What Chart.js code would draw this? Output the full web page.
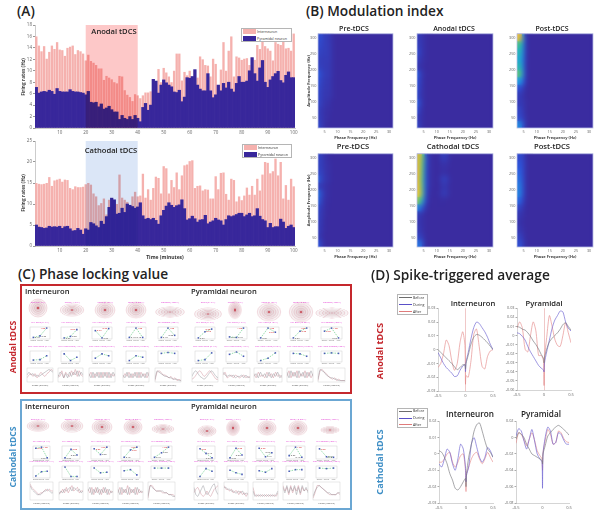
<!DOCTYPE html>
<html>
<head>
<meta charset="utf-8">
<title>tDCS figure</title>
<script src="https://cdn.jsdelivr.net/npm/chart.js@4/dist/chart.umd.min.js"></script>
<style>
  html, body { margin: 0; padding: 0; background: #fff; }
  #page { position: absolute; left: 0; top: 0; width: 603px; height: 517px; overflow: hidden; background: #fff; filter: blur(0.35px); font-family: "Open Sans", "Noto Sans", sans-serif; }
  #page canvas { position: absolute; }
  .txt { position: absolute; white-space: nowrap; line-height: 1; }
  .frame { position: absolute; box-sizing: border-box; }
  .legend { position: absolute; box-sizing: border-box; background: #fff; border: 1px solid #b5b5b5; }
</style>
</head>
<body>
<div id="page"></div>
<script>
// Panel A: firing rates per minute
const minutes = [];
for (let m = 1; m <= 100; m++) minutes.push(m);
const anodalInter = [16,14.4,13.4,14.3,12.1,13.3,14.4,13.8,15,13.7,13.6,12.6,14,14.2,14.4,12.9,13.6,13.4,13,11.8,
  12.8,11.7,11.4,11,10.4,10.4,8.4,9.1,8.8,8.5,8,7.8,9.1,9,6.6,5.8,5.4,4.7,5.9,5.7,
  5.2,5.7,6.2,6.2,6.4,8.5,8,10.3,8,10.5,9.7,9,8,10,13,13,8.3,9.8,9.2,10,
  8.7,10,8.8,12.5,12,11,10.9,9,12.1,11.2,7,10.2,15,10,13.5,16,9,12.5,12.3,11.9,
  12.1,12.2,11,12.3,11.9,14.5,13.8,15.7,14.3,13.9,13.5,11.8,15,14.7,14.5,15.2,13.9,14,13.5,16.5];
const anodalPyr = [7.1,6.1,6.3,6.4,6.3,6.6,6.4,5.9,6.9,6.4,6.3,6.3,6.3,6.7,6.4,6.3,6.3,6.2,6.1,5.8,
  6.4,4.5,4.4,4.5,3.7,4.2,3.3,3.5,3.8,3.2,2.8,2.8,1.5,2.2,1.7,1.5,2,1.5,2.2,1.7,
  1.1,3.6,4.3,3.1,4,8.5,8.2,6.1,7.5,8.4,7.9,7.5,7.2,6.3,6.2,6.6,4.6,5.4,8.8,8.7,
  9,10.2,7.5,6.8,6.5,6.5,9.5,6.5,5.3,5.8,7.5,6.5,7.8,7,8,6.8,6.3,7.8,9,8,
  8,8.2,10,12.3,9.5,8.2,10.5,11.8,8,7.1,8.4,9,9.5,9.9,8.3,7.9,9.2,9.8,8.8,8.8];
const cathodalInter = [15,14.8,14.7,14.8,15,16.4,14.3,15.6,15.8,16,15.3,15.8,15.7,13.8,13.5,14.2,14,14,14.1,14.7,
  15,14.6,12.5,11.8,9.7,10.2,11.3,7.5,11,11,10,10,17,11.5,11,10.5,9.5,11.8,12.9,11.8,
  12,17.2,11.5,13.5,11,13.8,16.5,16.2,12.5,19,18.5,12.5,15.7,14,17.5,13.5,16.8,19.2,19.4,20.2,
  20.4,13.8,14.3,14.4,13.2,13.5,13.4,11.3,11.3,16.6,13.5,17.4,17.5,12.4,11,16,15.7,10.6,11.8,10.9,
  12,13.9,12.2,14.3,12.2,16,13.2,17,20,19.8,17.3,17.8,20.8,16.8,20,11.3,14.5,11,16,14.2];
const cathodalPyr = [5,4.5,4.4,4.2,4.3,4.7,4.5,4.6,4.5,4.7,4.2,4.6,4.7,4.1,3.6,3.7,4.2,3.8,2.8,4.1,
  3.8,5.6,5.3,4.8,4.4,5.9,5.2,7,9.2,11.4,11,7.6,7.8,9,8,10,9.7,9.4,9,9.3,
  10.3,7.2,6.4,6.6,6.3,6.6,6.1,5.2,7.2,8.5,9.5,10.3,9.7,9.2,9.6,9.8,11,8.9,6.2,6.5,
  7.1,6.5,5.7,6.2,6.3,7.3,5.3,5.7,6,6.6,6.2,6,5,6.3,7.2,7,7.2,7.5,7.8,7.8,
  7,7.4,7.8,7,7.2,8.9,7.1,6.3,6,4.4,5.4,4.4,4.6,4.6,6.4,5.7,4.2,4.7,5,4.4];

// Panel B: comodulogram cells, top band first, percent of colour range, first column is 3 Hz
const phaseHz = [];
for (let p = 3; p <= 31; p++) phaseHz.push(p);
const ampEdges = [312,290,268,245,223,200,178,155,133,110,88,65,43,20];
const miPreA = [[15,14,8,8,7,2],[14,12,8,8,8,2],[12,10,7,9,8,2],[10,8,6,8,8,2],[12,8,6,7,7,2],[22,12,6,8,8,2],[18,10,5,7,6,2],[16,8,5,6,6,2],[14,8,4,6,5,2],[13,8,3,4,3,0],[10,6,2,2,2,0],[10,6,2,2,1,0],[14,6,2,1,0,0]];
const miAnodal = [[8,6,3,1,0,0],[10,6,3,1,0,0],[14,7,3,1,0,0],[10,5,2,1,0,0],[6,3,1,0,0,0],[22,8,2,1,0,0],[18,7,2,0,0,0],[16,6,2,0,0,0],[14,5,2,0,0,0],[22,8,2,0,0,0],[16,5,1,0,0,0],[8,4,1,0,0,0],[12,4,1,0,0,0]];
const miPostA = [[90,86,34,4,0,0],[62,58,32,4,0,0],[52,50,30,4,0,0],[46,44,28,3,0,0],[54,50,28,2,0,0],[68,62,30,3,0,0],[40,36,22,2,0,0],[16,14,7,0,0,0],[8,7,3,0,0,0],[7,7,4,2,0,0],[12,11,5,1,0,0],[14,13,7,2,0,0],[34,32,14,2,0,0]];
const miPreC = [[12,8,4,2,1,0],[12,8,4,3,2,0],[14,9,5,3,2,0],[24,10,5,4,3,0],[10,6,3,2,1,0],[28,12,4,2,1,0],[24,9,3,1,1,0],[14,6,2,1,0,0],[12,5,2,0,0,0],[10,5,1,0,0,0],[10,4,1,0,0,0],[8,3,0,0,0,0],[20,6,1,0,0,0]];
const miCathodal = [[84,84,62,18,4,2,0,0,0,8,8,6],[86,82,56,16,4,2,0,0,0,3,3,2],[88,80,52,14,4,2,0,0,0,2,2,1],[88,78,48,14,4,2,0,0,0,8,9,7],[90,80,48,14,4,2,0,0,0,4,6,4],[94,84,50,12,2,1,0,0,0,6,7,5],[74,62,34,8,2,0,0,0,0,1,1,0],[32,26,12,3,0,0],[7,5,2,0,0,0],[5,4,2,0,0,0],[7,5,2,0,0,0],[11,9,4,0,0,0],[28,26,9,0,0,0]];
const miPostC = [[14,14,11,2,0,0],[18,18,12,2,0,0],[23,21,12,2,0,0],[27,24,13,2,0,0],[31,28,13,2,0,0],[33,29,13,2,0,0],[25,21,9,1,0,0],[12,10,4,0,0,0],[6,5,2,0,0,0],[4,3,1,0,0,0],[6,5,2,0,0,0],[10,10,4,0,0,0],[15,15,7,1,0,0]];

// Panel C: ring levels, three-point rows and traces
const bandNames = ['Delta (0-4Hz)','Theta (4-7Hz)','Alpha (8-13Hz)','Beta (13-30Hz)','Gamma (>30Hz)'];
const conditions = ['Before','During','After'];
const ringLevels = [0.9,0.72,0.54,0.36,0.18];
const plvAnodal = [[0.1,0.25,1],[0.05,0.2,0.85],[0.75,0.05,0.95],[0.1,1,0.1],[0.1,1,0.3],[0.05,0.65,0.9],[0.15,0.1,1],[0.05,1,0.6],[0.05,0.7,1],[0.7,1,0.05]];
const angleAnodal = [[0.15,0.2,0.6],[0.8,0.1,0.45],[0.35,0.8,0.6],[0.1,0.6,0.45],[0.85,0.95,0.85],[0.1,0.2,0.9],[0.75,1,0.55],[0.1,0.35,0.9],[0.85,0.8,0.55],[0.85,0.9,0.85]];
const plvCathodal = [[0.9,1,0.05],[0.05,0.8,0.3],[0.85,0.35,1],[0.1,0.75,1],[0.1,0.5,1],[0.85,0.45,0.05],[0.05,0.9,0.3],[0.9,0.15,0.5],[0.25,1,0.1],[0.85,0.15,0.1]];
const angleCathodal = [[0.15,0.55,0.6],[1,0.1,0.1],[0.9,0.45,0.5],[0.65,0.75,0.25],[0.9,0.9,0.9],[0.1,0.85,0.6],[0.7,0.45,0.3],[0.65,0.5,0.85],[0.6,0.75,0.75],[0.9,0.85,0.9]];
const traceAnodalA = [[5,7,5,6,4,5,4,5,6,7,8,9,8,7],[3,7,6,3,6,3,7,4,7,5,8,4,7,5],[6,3,7,3,7,3,7,3,7,3,7,3,7,4],[5,3,7,3,6,3,7,3,7,3,6,3,7,4],[2,8,7,6,5,4,4,3,3,2,2,2,1,1],
  [4,7,8,6,4,3,2,3,5,7,8,6,4,3],[7,5,4,5,4,5,3,4,4,5,3,5,3,4],[4,6,3,7,4,6,3,7,3,6,4,7,3,5],[7,3,8,4,7,3,8,4,7,3,7,4,8,4],[2,9,8,7,5,4,3,3,2,2,1,1,1,1]];
const traceAnodalB = [[3,5,6,4,6,3,5,7,5,4,6,7,9,8],[5,4,8,3,7,5,4,8,5,9,4,8,5,4],[4,7,3,6,4,7,3,7,4,7,3,6,4,6],[3,6,4,7,3,6,4,7,3,7,4,6,3,7],[1,7,8,7,5,5,4,3,4,2,3,1,2,1],
  [2,3,5,7,8,6,4,5,7,8,6,4,2,2],[5,7,3,4,5,3,5,4,3,4,5,3,4,3],[6,3,7,4,5,3,7,4,6,3,7,4,5,3],[4,8,3,7,4,8,3,6,4,8,3,7,3,6],[1,8,9,7,6,4,3,2,3,1,2,1,1,1]];
const traceCathodalA = [[8,6,5,4,3,3,3,4,5,5,6,5,4,4],[3,5,4,6,5,6,7,5,7,6,5,6,4,5],[5,7,3,6,4,7,3,6,4,7,3,6,4,5],[6,3,7,4,6,3,7,4,6,3,7,4,5,4],[2,8,7,6,5,5,5,5,4,4,3,3,2,2],
  [7,3,2,4,6,8,5,3,4,6,8,9,5,3],[7,7,6,6,5,5,4,4,5,4,5,3,4,3],[5,2,3,2,3,2,3,2,3,2,3,2,3,5],[7,4,8,4,7,5,8,3,7,4,8,5,7,4],[2,5,7,8,7,6,5,4,4,3,3,3,4,4]];
const traceCathodalB = [[9,7,6,5,4,3,4,4,5,6,5,6,5,5],[4,4,6,4,7,4,6,8,5,6,7,4,5,5],[6,4,7,3,7,4,6,3,7,4,6,3,5,4],[4,7,3,6,4,8,3,6,4,7,3,6,4,5],[1,8,8,6,5,5,5,4,4,4,3,3,3,2],
  [4,6,7,5,3,2,3,5,3,2,4,6,7,8],[8,6,6,5,6,4,5,5,3,5,3,4,2,4],[7,3,2,3,2,3,2,3,2,3,2,3,2,4],[8,5,7,3,8,4,7,5,8,3,7,5,6,5],[1,4,8,8,7,6,5,4,3,3,3,3,4,3]];

// Panel D: spike-triggered averages, values in units of 0.001
const staTime = [-0.5,-0.45,-0.4,-0.35,-0.3,-0.25,-0.2,-0.15,-0.1,-0.05,-0.01,0,0.01,0.05,0.1,0.15,0.2,0.25,0.3,0.35,0.4,0.45,0.5];
const staAnoIntBefore = [0,-2,-4,-6,-8,-10,-12.5,-14.5,-13,-11,-11,-14,-10,-4,4,9,11,10.5,9,7,5,2.5,0];
const staAnoIntDuring = [-2,-6,-10,-13,-15,-17,-19.5,-19,-15,-12,-11,-16,-9,-2,8,16,20,19,16,13,9,4,0];
const staAnoIntAfter = [-13,-10,-3,7,3,-8,-15,-10,5,13,3,-25,-19,-20,-8,11,15,2,-12,-14,-5,-1,0];
const staAnoPyrBefore = [10,9,7,6,3,-1,-6,-10,-15,-21,-25,-30,-24,-15,-7,-3,0,3,7,12,14,10,6];
const staAnoPyrDuring = [3,2,-1,-5,-12,-18,-23,-28,-33,-36,-38,-40,-30,-18,-5,8,17,22,27,26,15,8,5];
const staAnoPyrAfter = [8,15,8,-15,-18,0,15,5,-22,-22,-28,-55,-25,-2,22,10,-4,-11,-12,0,14,3,-8];
const staCatIntBefore = [2,1,-2,-6,-12,-16,-21,-22,-20,-17,-15,-20,-12,-2,6,14,18,19,14,8,3,1,-2];
const staCatIntDuring = [-6,-8,-3,3,1,-6,-10,-3,6,3,-8,-17,-13,-8,6,10,4,-2,-5,-2,4,2,-2];
const staCatIntAfter = [-5,-5,-3,0,1,-5,-8,-5,-1,0,-10,-23,-12,-8,-3,0,1,-3,-6,-3,1,-2,-5];
const staCatPyrBefore = [-2,6,4,0,-8,-14,-20,-22,-24,-26,-28,-32,-20,-10,2,6,10,13,15,13,10,7,3];
const staCatPyrDuring = [2,11,8,-4,-14,-2,10,-4,-20,-26,-30,-62,-20,0,13,8,-8,-6,6,4,-3,-8,-8];
const staCatPyrAfter = [-7,6,4,-3,-10,-2,6,-3,-16,-22,-26,-40,-18,-4,10,4,-8,-6,8,6,-1,-5,-6];

const PINK = '#f5b1ae', NAVY = '#38279b', HEAT_BASE = '#3a2ca0';
const RED = '#c4262c', BLUE = '#3f8fc6', TICK = '#666';
const page = document.getElementById('page');
Chart.defaults.animation = false;
Chart.defaults.font.family = '"Open Sans", "Noto Sans", sans-serif';

function label(text, x, y, size, opts) {
  opts = opts || {};
  const d = document.createElement('div');
  d.className = 'txt';
  d.textContent = text;
  d.style.left = x + 'px';
  d.style.top = y + 'px';
  d.style.fontSize = size + 'px';
  d.style.fontWeight = opts.weight || 400;
  d.style.color = opts.color || '#222';
  let tr = opts.left ? 'translate(0,-50%)' : 'translate(-50%,-50%)';
  if (opts.rotate) tr += ' rotate(-90deg)';
  d.style.transform = tr;
  page.appendChild(d);
}

function frameBox(l, t, r, b, color, w) {
  const d = document.createElement('div');
  d.className = 'frame';
  d.style.cssText = 'left:' + l + 'px;top:' + t + 'px;width:' + (r - l) + 'px;height:' + (b - t) + 'px;border:' + w + 'px solid ' + color;
  page.appendChild(d);
}

function legendBox(l, t, w, h, items, swatch) {
  const d = document.createElement('div');
  d.className = 'legend';
  d.style.cssText = 'left:' + l + 'px;top:' + t + 'px;width:' + w + 'px;height:' + h + 'px';
  page.appendChild(d);
  items.forEach(function(it, i) {
    const rowY = t + (i + 0.5) * h / items.length;
    const s = document.createElement('div');
    s.style.cssText = 'position:absolute;left:' + (l + 1.5) + 'px;top:' + (rowY - swatch / 2) + 'px;width:13px;height:' + swatch + 'px;background:' + it.color;
    page.appendChild(s);
    label(it.name, l + 16, rowY, 3.6, { left: true, color: '#333' });
  });
}

// canvas placed so that the chart area lands on the given plot box
function place(l, t, r, b, m) {
  const c = document.createElement('canvas');
  c.width = r - l + m.left + m.right;
  c.height = b - t + m.top + m.bottom;
  c.style.left = (l - m.left) + 'px';
  c.style.top = (t - m.top) + 'px';
  page.appendChild(c);
  return c;
}

function fitted(m, axis, scale) {
  scale.afterFit = function(s) {
    if (axis === 'y') s.width = m.left; else s.height = m.bottom;
  };
  return scale;
}

const framePlugin = {
  id: 'plotFrame',
  afterDraw(chart, args, opts) {
    if (!opts.color) return;
    const a = chart.chartArea, ctx = chart.ctx;
    ctx.save();
    ctx.strokeStyle = opts.color;
    ctx.lineWidth = opts.width || 0.5;
    ctx.strokeRect(a.left, a.top, a.right - a.left, a.bottom - a.top);
    ctx.restore();
  }
};

const shadePlugin = {
  id: 'stimShade',
  afterDatasetsDraw(chart, args, opts) {
    if (!opts.color) return;
    const a = chart.chartArea, ctx = chart.ctx, x = chart.scales.x;
    ctx.save();
    ctx.globalCompositeOperation = 'multiply';
    ctx.fillStyle = opts.color;
    const x0 = x.getPixelForValue(opts.from), x1 = x.getPixelForValue(opts.to);
    ctx.fillRect(x0, a.top, x1 - x0, a.bottom - a.top);
    ctx.restore();
  }
};

// base colour under the cells, then the finished cells are blurred as one picture
const softPlugin = {
  id: 'softCells',
  beforeDatasetsDraw(chart, args, opts) {
    if (!opts.blur) return;
    const a = chart.chartArea;
    chart.ctx.fillStyle = opts.base;
    chart.ctx.fillRect(a.left, a.top, a.right - a.left, a.bottom - a.top);
  },
  afterDatasetsDraw(chart, args, opts) {
    if (!opts.blur) return;
    const a = chart.chartArea, ctx = chart.ctx;
    const w = a.right - a.left, h = a.bottom - a.top;
    const tmp = document.createElement('canvas');
    tmp.width = w;
    tmp.height = h;
    tmp.getContext('2d').drawImage(chart.canvas, a.left, a.top, w, h, 0, 0, w, h);
    ctx.save();
    ctx.beginPath();
    ctx.rect(a.left, a.top, w, h);
    ctx.clip();
    ctx.filter = 'blur(' + opts.blur + 'px)';
    ctx.drawImage(tmp, a.left, a.top);
    ctx.restore();
  }
};

const valueTextPlugin = {
  id: 'valueText',
  afterDatasetsDraw(chart, args, opts) {
    if (!opts.show) return;
    const ctx = chart.ctx, meta = chart.getDatasetMeta(0);
    ctx.save();
    ctx.font = '2.4px "Open Sans"';
    ctx.textBaseline = 'middle';
    meta.data.forEach(function(pt, i) {
      const v = chart.data.datasets[0].data[i];
      ctx.fillStyle = v > 0.5 ? '#d02020' : '#404040';
      ctx.textAlign = i === 2 ? 'right' : 'left';
      ctx.fillText(v.toFixed(2), pt.x + (i === 2 ? -1.5 : 1.5), pt.y);
    });
    ctx.restore();
  }
};

Chart.register(framePlugin, shadePlugin, softPlugin, valueTextPlugin);

function firingChart(box, inter, pyr, yMax, yStep, shadeColor, xTitle) {
  const m = { left: 12, right: 5, top: 4, bottom: xTitle ? 16 : 9 };
  new Chart(place(box[0], box[1], box[2], box[3], m), {
    type: 'bar',
    data: {
      labels: minutes,
      datasets: [
        { label: 'Pyramidal neuron', data: pyr, backgroundColor: NAVY, grouped: false, barPercentage: 1, categoryPercentage: 1, order: 1 },
        { label: 'Interneuron', data: inter, backgroundColor: PINK, grouped: false, barPercentage: 0.9, categoryPercentage: 1, order: 2 }
      ]
    },
    options: {
      responsive: false,
      layout: { padding: { top: m.top, right: m.right } },
      plugins: {
        legend: { display: false }, tooltip: { enabled: false },
        stimShade: { color: shadeColor, from: 19, to: 39 }
      },
      scales: {
        x: fitted(m, 'x', {
          grid: { display: false, drawTicks: false }, border: { color: '#999', width: 0.5 },
          ticks: { autoSkip: false, maxRotation: 0, font: { size: 4.5 }, color: TICK, padding: 2,
            callback: function(v, i) { return (i + 1) % 10 === 0 ? minutes[i] : ''; } },
          title: { display: !!xTitle, text: xTitle, font: { size: 5, weight: 'bold' }, color: '#333', padding: 1 }
        }),
        y: fitted(m, 'y', {
          min: 0, max: yMax, grid: { drawOnChartArea: false, tickLength: 2, color: '#999' }, border: { color: '#999', width: 0.5 },
          ticks: { stepSize: yStep, font: { size: 4.5 }, color: TICK, padding: 1 }
        })
      }
    }
  });
}

// parula-like ramp for the comodulograms
const rampStops = [[0,58,44,160],[0.2,45,90,225],[0.4,30,165,225],[0.58,45,195,160],[0.72,130,205,90],[0.88,240,185,55],[1,252,225,40]];
function rampColor(pct) {
  const v = pct / 100;
  for (let i = 1; i < rampStops.length; i++) {
    if (v <= rampStops[i][0]) {
      const a = rampStops[i - 1], b = rampStops[i], f = (v - a[0]) / (b[0] - a[0]);
      return 'rgb(' + [1, 2, 3].map(function(k) { return Math.round(a[k] + (b[k] - a[k]) * f); }).join(',') + ')';
    }
  }
  return 'rgb(252,225,40)';
}

function heatChart(box, cells, axisTitle) {
  const m = { left: 12, right: 3, top: 3, bottom: 12 };
  new Chart(place(box[0], box[1], box[2], box[3], m), {
    type: 'bar',
    data: {
      labels: phaseHz,
      datasets: cells.map(function(row, i) {
        return {
          data: row.map(function() { return [ampEdges[i + 1], ampEdges[i]]; }),
          backgroundColor: row.map(rampColor),
          grouped: false, barPercentage: 1, categoryPercentage: 1
        };
      })
    },
    options: {
      responsive: false,
      layout: { padding: { top: m.top, right: m.right } },
      plugins: {
        legend: { display: false }, tooltip: { enabled: false },
        softCells: { blur: 2.4, base: HEAT_BASE },
        plotFrame: { color: '#b9bfe6', width: 0.8 }
      },
      scales: {
        x: fitted(m, 'x', {
          grid: { display: false, drawTicks: false }, border: { display: false },
          ticks: { autoSkip: false, maxRotation: 0, font: { size: 3.8 }, color: TICK, padding: 1.5,
            callback: function(v) { return phaseHz[v] % 5 === 0 ? phaseHz[v] : ''; } },
          title: { display: true, text: 'Phase Frequency (Hz)', font: { size: 4, weight: 'bold' }, color: '#444', padding: 0 }
        }),
        y: fitted(m, 'y', {
          min: 20, max: 312, grid: { display: false, drawTicks: false }, border: { display: false },
          afterBuildTicks: function(s) { s.ticks = [50, 100, 150, 200, 250, 300].map(function(v) { return { value: v }; }); },
          ticks: { font: { size: 3.8 }, color: TICK, padding: 1.5 },
          title: { display: axisTitle, text: 'Amplitude Frequency (Hz)', font: { size: 4, weight: 'bold' }, color: '#444', padding: 0 }
        })
      }
    }
  });
}

function ringChart(cx, cy, rx, ry) {
  const side = Math.ceil(rx * 2 + 2);
  const m = { left: 0, right: 0, top: 0, bottom: 0 };
  const c = place(cx - side / 2, cy - side / 2, cx + side / 2, cy + side / 2, m);
  c.style.transform = 'scaleY(' + (ry / rx) + ')';
  new Chart(c, {
    type: 'scatter',
    data: { datasets: [
      { data: ringLevels.map(function() { return { x: 0, y: 0 }; }),
        pointRadius: ringLevels.map(function(level) { return level * rx; }),
        pointBackgroundColor: 'rgba(190,150,160,0.1)', pointBorderColor: 'rgba(205,95,115,0.5)', pointBorderWidth: 0.4, clip: false },
      { data: [{ x: 0, y: 0 }], pointRadius: 1.3, pointBackgroundColor: '#d8303a', pointBorderWidth: 0 }
    ] },
    options: {
      responsive: false,
      plugins: { legend: { display: false }, tooltip: { enabled: false } },
      scales: { x: { display: false, min: -1, max: 1 }, y: { display: false, min: -1, max: 1 } }
    }
  });
}

function pointsChart(box, values, showText) {
  const m = { left: 1, right: 1, top: 1, bottom: 3 };
  new Chart(place(box[0], box[1], box[2], box[3], m), {
    type: 'line',
    data: { labels: conditions, datasets: [{
      data: values, borderColor: '#58c878', borderWidth: 0.6, borderDash: [1.5, 1],
      pointStyle: 'rect', pointRadius: 1.1, pointBackgroundColor: '#4a5ab8', pointBorderWidth: 0, tension: 0
    }] },
    options: {
      responsive: false,
      layout: { padding: { top: m.top, right: m.right } },
      plugins: { legend: { display: false }, tooltip: { enabled: false },
        plotFrame: { color: '#c4c4c4', width: 0.4 }, valueText: { show: showText } },
      scales: {
        x: fitted(m, 'x', { offset: true, grid: { display: false, drawTicks: false }, border: { display: false },
          ticks: { autoSkip: false, maxRotation: 0, font: { size: 1.8 }, color: '#777', padding: 0.5 } }),
        y: fitted(m, 'y', { min: -0.05, max: 1.1, display: false })
      }
    }
  });
}

function traceChart(box, a, b) {
  const m = { left: 1, right: 1, top: 1, bottom: 1 };
  new Chart(place(box[0], box[1], box[2], box[3], m), {
    type: 'line',
    data: { labels: a.map(function(v, i) { return i; }), datasets: [
      { data: a, borderColor: '#8a8a92', borderWidth: 0.45, pointRadius: 0, tension: 0.15 },
      { data: b, borderColor: '#c9838f', borderWidth: 0.45, pointRadius: 0, tension: 0.15 }
    ] },
    options: {
      responsive: false,
      layout: { padding: { top: m.top, right: m.right } },
      plugins: { legend: { display: false }, tooltip: { enabled: false },
        plotFrame: { color: '#c8c8c8', width: 0.4 } },
      scales: {
        x: fitted(m, 'x', { display: false, offset: false }),
        y: fitted(m, 'y', { display: false, min: 0, max: 10 })
      }
    }
  });
}

function staChart(box, series, yMin, yMax, yStep, zeroMark) {
  const m = { left: 16, right: 5, top: 3, bottom: 8 };
  const colors = ['#77777c', '#6a60d0', '#e58a8a'];
  new Chart(place(box[0], box[1], box[2], box[3], m), {
    type: 'line',
    data: { datasets: series.map(function(vals, i) {
      return {
        label: conditions[i],
        data: vals.map(function(v, k) { return { x: staTime[k], y: v / 1000 }; }),
        borderColor: colors[i], borderWidth: 0.65, pointRadius: 0, tension: 0.25
      };
    }) },
    options: {
      responsive: false,
      layout: { padding: { top: m.top, right: m.right } },
      plugins: { legend: { display: false }, tooltip: { enabled: false } },
      scales: {
        x: fitted(m, 'x', {
          type: 'linear', min: -0.5, max: 0.5,
          grid: { drawTicks: false, color: function(c) { return zeroMark && c.tick.value === 0 ? '#f0c8c8' : 'transparent'; } },
          border: { color: '#aaa', width: 0.5 },
          ticks: { stepSize: 0.5, font: { size: 4 }, color: TICK, padding: 2 }
        }),
        y: fitted(m, 'y', {
          min: yMin, max: yMax, grid: { drawOnChartArea: false, tickLength: 1.5, color: '#aaa' }, border: { color: '#aaa', width: 0.5 },
          ticks: { stepSize: yStep, font: { size: 3.8 }, color: TICK, padding: 1,
            callback: function(v) { return Math.abs(v) < 1e-9 ? '0' : +v.toFixed(2); } }
        })
      }
    }
  });
}

// Panel A
label('(A)', 17, 11, 13.7, { left: true, weight: 600 });
firingChart([35, 25, 295, 128], anodalInter, anodalPyr, 18, 2, '#fdc8c8', '');
firingChart([35, 141, 295, 246], cathodalInter, cathodalPyr, 25, 5, '#dbe6f7', 'Time (minutes)');
label('Firing rates (Hz)', 23, 77, 4.8, { rotate: true, weight: 700, color: '#444' });
label('Firing rates (Hz)', 23, 193, 4.8, { rotate: true, weight: 700, color: '#444' });
label('Anodal tDCS', 114, 32, 7.6, { weight: 600 });
label('Cathodal tDCS', 111, 151, 7.6, { weight: 600 });
legendBox(241, 28, 51, 14, [{ name: 'Interneuron', color: PINK }, { name: 'Pyramidal neuron', color: NAVY }], 4.5);
legendBox(242, 144, 50, 14, [{ name: 'Interneuron', color: PINK }, { name: 'Pyramidal neuron', color: NAVY }], 4.5);

// Panel B
label('(B) Modulation index', 306, 11, 13.7, { left: true, weight: 600 });
heatChart([318, 33, 393, 128], miPreA, true);
heatChart([417, 33, 493, 128], miAnodal, false);
heatChart([517, 33, 593, 128], miPostA, false);
heatChart([318, 153, 393, 247], miPreC, true);
heatChart([417, 153, 493, 247], miCathodal, false);
heatChart([517, 153, 593, 247], miPostC, false);
label('Pre-tDCS', 354, 28, 7, { weight: 600 });
label('Anodal tDCS', 454, 28, 7, { weight: 600 });
label('Post-tDCS', 552, 28, 7, { weight: 600 });
label('Pre-tDCS', 353, 147, 7.6, { weight: 600 });
label('Cathodal tDCS', 453, 147, 7.6, { weight: 600 });
label('Post-tDCS', 552, 147, 7.6, { weight: 600 });

// Panel C
label('(C) Phase locking value', 18, 274, 13.7, { left: true, weight: 600 });
frameBox(20, 284, 352, 394, '#c5282d', 2);
frameBox(20, 399, 352, 510, '#6ba7d3', 2);
label('Anodal tDCS', 13, 347, 8.6, { rotate: true, weight: 700, color: RED });
label('Cathodal tDCS', 13, 457, 8.6, { rotate: true, weight: 700, color: BLUE });
label('Interneuron', 25, 292, 7.6, { left: true, weight: 600 });
label('Pyramidal neuron', 191, 292, 7.6, { left: true, weight: 600 });
label('Interneuron', 25, 407, 7.6, { left: true, weight: 600 });
label('Pyramidal neuron', 191, 407, 7.6, { left: true, weight: 600 });

const block1 = {
  cols: [[27,53],[58,83],[89,115],[123,149],[155,181],[192,218],[223,250],[254,282],[287,313],[318,345]],
  rings: [[38,308,10,10],[72,310,13,7],[105,310,11,9],[136,310,11,9],[170,312,16,6],[208,314,15,7],[235,310,7,9],[269,312,13,10],[301,312,13,11],[332,313,18,6]],
  row2: [324,340], row3: [348,363], row4: [368,382],
  plv: plvAnodal, angle: angleAnodal, a: traceAnodalA, b: traceAnodalB, capY: 302
};
const block2 = {
  cols: [[30,53],[59,83],[88,113],[118,143],[148,175],[194,218],[224,248],[253,278],[283,308],[313,340]],
  rings: [[38,426,12,6],[72,426,12,7],[102,427,11,8],[133,427,10,8],[163,429,12,5],[207,431,10,6],[233,428,7,8],[267,428,10,8],[298,428,10,8],[330,430,10,4]],
  row2: [443,460], row3: [463,479], row4: [482,500],
  plv: plvCathodal, angle: angleCathodal, a: traceCathodalA, b: traceCathodalB, capY: 419
};

[block1, block2].forEach(function(blk) {
  blk.cols.forEach(function(col, i) {
    const band = bandNames[i % 5], mid = (col[0] + col[1]) / 2;
    const ring = blk.rings[i];
    ringChart(ring[0], ring[1], ring[2], ring[3]);
    pointsChart([col[0], blk.row2[0], col[1], blk.row2[1]], blk.plv[i], true);
    pointsChart([col[0], blk.row3[0], col[1], blk.row3[1]], blk.angle[i], false);
    traceChart([col[0], blk.row4[0], col[1], blk.row4[1]], blk.a[i], blk.b[i]);
    label(band, ring[0], blk.capY, 2.4, { color: '#e02fd0' });
    label('PLV ' + band, mid, blk.row2[0] - 1.5, 2.2, { color: '#e02fd0' });
    label('Pref Angle ' + band, mid, blk.row3[0] - 1.5, 2.2, { color: '#e02fd0' });
    label('Phase (degree)', mid, blk.row4[1] + 2.5, 2.4, { color: '#555' });
  });
});

// Panel D
label('(D) Spike-triggered average', 371, 275, 13.7, { left: true, weight: 600 });
staChart([438, 308, 493, 391], [staAnoIntBefore, staAnoIntDuring, staAnoIntAfter], -0.03, 0.03, 0.01, true);
staChart([517, 308, 571, 390], [staAnoPyrBefore, staAnoPyrDuring, staAnoPyrAfter], -0.06, 0.03, 0.01, true);
staChart([439, 421, 493, 503], [staCatIntBefore, staCatIntDuring, staCatIntAfter], -0.03, 0.02, 0.01, false);
staChart([516, 421, 569, 503], [staCatPyrBefore, staCatPyrDuring, staCatPyrAfter], -0.08, 0.02, 0.02, false);
label('Interneuron', 473, 304, 7.6, { weight: 600 });
label('Pyramidal', 544, 304, 7.6, { weight: 600 });
label('Interneuron', 470, 414, 8.2, { weight: 600 });
label('Pyramidal', 541, 414, 8.2, { weight: 600 });
label('Anodal tDCS', 380, 351, 9.2, { rotate: true, weight: 700, color: RED });
label('Cathodal tDCS', 380, 462, 9.2, { rotate: true, weight: 700, color: BLUE });

const staLegend = [{ name: 'Before', color: '#6d6d6d' }, { name: 'During', color: '#5a50c8' }, { name: 'After', color: '#e07b7b' }];
legendBox(397, 294, 31, 21, staLegend, 0.7);
legendBox(397, 408, 31, 20, staLegend, 0.7);
</script>
</body>
</html>
